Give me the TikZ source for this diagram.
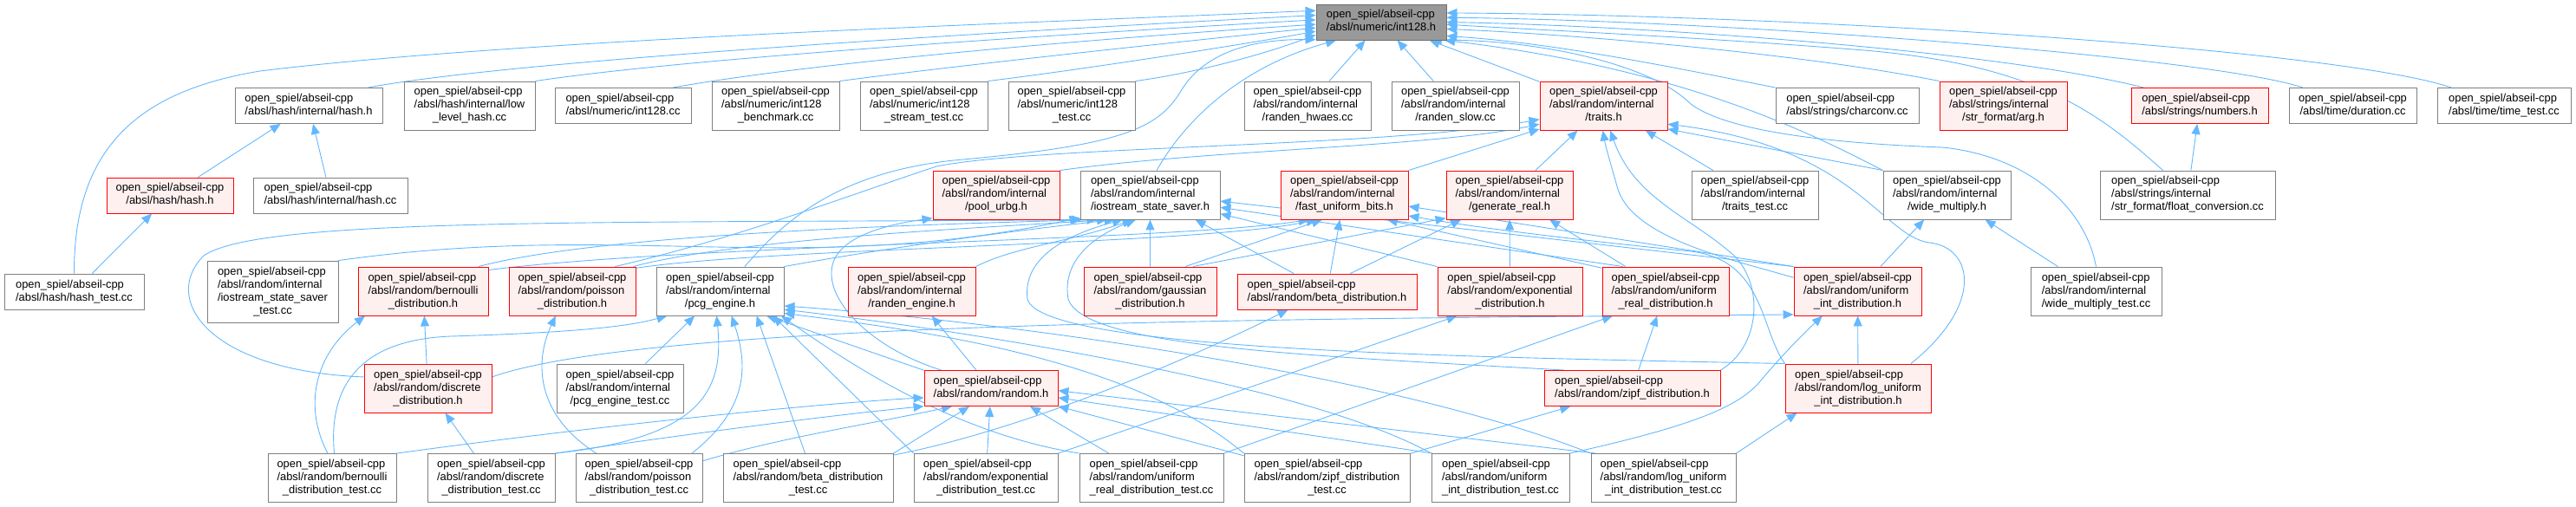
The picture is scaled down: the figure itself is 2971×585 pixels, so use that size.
\documentclass[tikz,border=0pt]{standalone}
\usepackage{fontspec}
\setmainfont{Liberation Sans}
\usetikzlibrary{arrows.meta,backgrounds}
\definecolor{eblue}{RGB}{99,184,255}
\definecolor{bgray}{RGB}{128,128,128}
\definecolor{pinkf}{RGB}{255,240,240}
\definecolor{rootf}{RGB}{153,153,153}
\definecolor{rootd}{RGB}{110,110,110}
\newcommand{\nodefont}{\fontsize{12.9pt}{15pt}\selectfont}
\newcommand{\ltwo}[1]{\begin{tabular}{@{}l@{}}open\_spiel/abseil-cpp\\\multicolumn{1}{@{}c@{}}{#1}\end{tabular}}
\newcommand{\lthree}[2]{\begin{tabular}{@{}l@{}}open\_spiel/abseil-cpp\\#1\\\multicolumn{1}{@{}c@{}}{#2}\end{tabular}}
\newcommand{\lfour}[3]{\begin{tabular}{@{}l@{}}open\_spiel/abseil-cpp\\#1\\#2\\\multicolumn{1}{@{}c@{}}{#3}\end{tabular}}
\tikzset{
  nb/.style={draw=bgray, fill=white, line width=0.9pt, inner sep=0pt, font=\nodefont},
  nr/.style={nb, draw=red, fill=pinkf},
  n0/.style={nb, draw=rootd, fill=rootf},
  h2/.style={minimum height=41pt},
  h3/.style={minimum height=56pt},
  h4/.style={minimum height=71pt},
  e/.style={draw=eblue, line width=0.9pt, -{Triangle[length=12pt,width=10pt]}}
}
\begin{document}
\begin{tikzpicture}[x=1pt,y=-1pt]
\useasboundingbox (0,0) rectangle (2971,585);
% row 0
\node[n0,h2,minimum width=150pt] (I) at (1593,25.5) {\ltwo{/absl/numeric/int128.h}};
% row 1
\node[nb,h2,minimum width=170pt] (hashi) at (356,122) {\ltwo{/absl/hash/internal/hash.h}};
\node[nb,h3,minimum width=151pt] (lowlvl) at (541.5,122) {\lthree{/absl/hash/internal/low}{\_level\_hash.cc}};
\node[nb,h2,minimum width=157pt] (i128cc) at (718.5,122) {\ltwo{/absl/numeric/int128.cc}};
\node[nb,h3,minimum width=147pt] (bench) at (894.5,122) {\lthree{/absl/numeric/int128}{\_benchmark.cc}};
\node[nb,h3,minimum width=147pt] (stream) at (1065.5,122) {\lthree{/absl/numeric/int128}{\_stream\_test.cc}};
\node[nb,h3,minimum width=146pt] (i128t) at (1236,122) {\lthree{/absl/numeric/int128}{\_test.cc}};
\node[nb,h3,minimum width=146pt] (hwaes) at (1508,122) {\lthree{/absl/random/internal}{/randen\_hwaes.cc}};
\node[nb,h3,minimum width=147pt] (slow) at (1678.5,122) {\lthree{/absl/random/internal}{/randen\_slow.cc}};
\node[nr,h3,minimum width=147pt] (T) at (1849.5,122) {\lthree{/absl/random/internal}{/traits.h}};
\node[nb,h2,minimum width=165pt] (charconv) at (2130.5,122) {\ltwo{/absl/strings/charconv.cc}};
\node[nr,h3,minimum width=147pt] (arg) at (2310.5,122) {\lthree{/absl/strings/internal}{/str\_format/arg.h}};
\node[nr,h2,minimum width=158pt] (numbers) at (2537,122) {\ltwo{/absl/strings/numbers.h}};
\node[nb,h2,minimum width=147pt] (duration) at (2713.5,122) {\ltwo{/absl/time/duration.cc}};
\node[nb,h2,minimum width=154pt] (timet) at (2888,122) {\ltwo{/absl/time/time\_test.cc}};
% row 2
\node[nr,h2,minimum width=146pt] (hashh) at (196,225.5) {\ltwo{/absl/hash/hash.h}};
\node[nb,h2,minimum width=178pt] (hashcc) at (381,225.5) {\ltwo{/absl/hash/internal/hash.cc}};
\node[nr,h3,minimum width=146pt] (pool) at (1149,225) {\lthree{/absl/random/internal}{/pool\_urbg.h}};
\node[nb,h3,minimum width=161pt] (iss) at (1326.5,225) {\lthree{/absl/random/internal}{/iostream\_state\_saver.h}};
\node[nr,h3,minimum width=147pt] (F) at (1550.5,225) {\lthree{/absl/random/internal}{/fast\_uniform\_bits.h}};
\node[nr,h3,minimum width=146pt] (G) at (1741,225) {\lthree{/absl/random/internal}{/generate\_real.h}};
\node[nb,h3,minimum width=146pt] (traitst) at (2024,225) {\lthree{/absl/random/internal}{/traits\_test.cc}};
\node[nb,h3,minimum width=147pt] (widemul) at (2245.5,225) {\lthree{/absl/random/internal}{/wide\_multiply.h}};
\node[nb,h3,minimum width=202pt] (floatconv) at (2523,225) {\lthree{/absl/strings/internal}{/str\_format/float\_conversion.cc}};
% row 3
\node[nb,h2,minimum width=161pt] (hasht) at (85.5,336.5) {\ltwo{/absl/hash/hash\_test.cc}};
\node[nb,h4,minimum width=151pt] (isst) at (314.5,336.5) {\lfour{/absl/random/internal}{/iostream\_state\_saver}{\_test.cc}};
\node[nr,h3,minimum width=150pt] (bern) at (488,336) {\lthree{/absl/random/bernoulli}{\_distribution.h}};
\node[nr,h3,minimum width=146pt] (pois) at (660,336) {\lthree{/absl/random/poisson}{\_distribution.h}};
\node[nb,h3,minimum width=147pt] (pcg) at (830.5,336) {\lthree{/absl/random/internal}{/pcg\_engine.h}};
\node[nr,h3,minimum width=147pt] (randeng) at (1051.5,336) {\lthree{/absl/random/internal}{/randen\_engine.h}};
\node[nr,h3,minimum width=153pt] (gauss) at (1326.5,336) {\lthree{/absl/random/gaussian}{\_distribution.h}};
\node[nr,h2,minimum width=207pt] (beta) at (1530.5,336.5) {\ltwo{/absl/random/beta\_distribution.h}};
\node[nr,h3,minimum width=167pt] (expo) at (1741.5,336) {\lthree{/absl/random/exponential}{\_distribution.h}};
\node[nr,h3,minimum width=146pt] (unireal) at (1921,336) {\lthree{/absl/random/uniform}{\_real\_distribution.h}};
\node[nr,h3,minimum width=147pt] (uniint) at (2142.5,336) {\lthree{/absl/random/uniform}{\_int\_distribution.h}};
\node[nb,h3,minimum width=151pt] (wmt) at (2417.5,336) {\lthree{/absl/random/internal}{/wide\_multiply\_test.cc}};
% row 4
\node[nr,h3,minimum width=147pt] (disc) at (493.5,448) {\lthree{/absl/random/discrete}{\_distribution.h}};
\node[nb,h3,minimum width=146pt] (pcgt) at (715,448) {\lthree{/absl/random/internal}{/pcg\_engine\_test.cc}};
\node[nr,h2,minimum width=154pt] (R) at (1143,448) {\ltwo{/absl/random/random.h}};
\node[nr,h2,minimum width=203pt] (zipf) at (1882.5,448) {\ltwo{/absl/random/zipf\_distribution.h}};
\node[nr,h3,minimum width=168pt] (loguni) at (2143,448) {\lthree{/absl/random/log\_uniform}{\_int\_distribution.h}};
% row 5
\node[nb,h3,minimum width=148pt] (bernt) at (383,551.5) {\lthree{/absl/random/bernoulli}{\_distribution\_test.cc}};
\node[nb,h3,minimum width=147pt] (disct) at (566.5,551.5) {\lthree{/absl/random/discrete}{\_distribution\_test.cc}};
\node[nb,h3,minimum width=146pt] (poist) at (737,551.5) {\lthree{/absl/random/poisson}{\_distribution\_test.cc}};
\node[nb,h3,minimum width=196pt] (betat) at (932,551.5) {\lthree{/absl/random/beta\_distribution}{\_test.cc}};
\node[nb,h3,minimum width=166pt] (expot) at (1137,551.5) {\lthree{/absl/random/exponential}{\_distribution\_test.cc}};
\node[nb,h3,minimum width=166pt] (unirealt) at (1328,551.5) {\lthree{/absl/random/uniform}{\_real\_distribution\_test.cc}};
\node[nb,h3,minimum width=191pt] (zipft) at (1530.5,551.5) {\lthree{/absl/random/zipf\_distribution}{\_test.cc}};
\node[nb,h3,minimum width=159pt] (uniintt) at (1730.5,551.5) {\lthree{/absl/random/uniform}{\_int\_distribution\_test.cc}};
\node[nb,h3,minimum width=167pt] (logut) at (1918.5,551.5) {\lthree{/absl/random/log\_uniform}{\_int\_distribution\_test.cc}};

\begin{pgfonlayer}{background}
% ---- to int128.h
\draw[e] (hasht.north) .. controls (85,170) and (160,105) .. (300,82) .. controls (600,45) and (1200,26) .. (I.170);
\draw[e] (hashi.17) .. controls (600,68) and (1200,34) .. (I.174);
\draw[e] (lowlvl.north east) .. controls (800,66) and (1250,38) .. (I.178);
\draw[e] (i128cc.20) .. controls (950,70) and (1300,42) .. (I.182);
\draw[e] (bench.north east) .. controls (1100,76) and (1380,46) .. (I.185);
\draw[e] (stream.north east) .. controls (1250,80) and (1430,52) .. (I.188);
\draw[e] (i128t.north east) .. controls (1380,84) and (1460,62) .. (I.191);
\draw[e] (pcg.45) .. controls (900,260) and (960,200) .. (1100,185) .. controls (1290,168) and (1335,150) .. (1362,105) .. controls (1390,58) and (1450,45) .. (I.195);
\draw[e] (iss.75) .. controls (1360,150) and (1420,80) .. (I.202);
\draw[e] (hwaes) -- (I);
\draw[e] (slow) -- (I);
\draw[e] (T) -- (I);
\draw[e] (charconv.north west) .. controls (1950,82) and (1800,50) .. (I.-12);
\draw[e] (arg.north west) .. controls (2080,62) and (1820,40) .. (I.-6);
\draw[e] (numbers.162) .. controls (2300,58) and (1900,30) .. (I.0);
\draw[e] (duration.160) .. controls (2550,66) and (2000,24) .. (I.4);
\draw[e] (timet.161) .. controls (2700,58) and (2100,18) .. (I.8);
\draw[e] (floatconv.135) .. controls (2420,130) and (2350,75) .. (2150,58) .. controls (1950,42) and (1760,34) .. (I.-2);
\draw[e] (widemul.north west) .. controls (2100,160) and (1950,80) .. (I.-16);
\draw[e] (wmt.north) .. controls (2405,240) and (2340,180) .. (2240,170) .. controls (2100,165) and (1990,150) .. (1950,120) .. controls (1900,70) and (1760,45) .. (I.-20);
% ---- to traits.h
\draw[e] (F.north east) -- (T.200);
\draw[e] (pool.north east) .. controls (1400,172) and (1650,170) .. (T.196);
\draw[e] (pois.30) .. controls (850,275) and (980,225) .. (1080,192) .. controls (1200,168) and (1600,170) .. (T.192);
\draw[e] (G) -- (T);
\draw[e] (traitst) -- (T);
\draw[e] (widemul.north west) -- (T.-20);
\draw[e] (loguni.25) .. controls (2290,350) and (2275,285) .. (2225,280) .. controls (2170,272) and (2140,170) .. (T.-16);
\draw[e] (uniint.168) .. controls (2000,300) and (1880,275) .. (1865,215) .. controls (1858,190) and (1852,170) .. (T.-92);
\draw[e] (zipf.north east) .. controls (2030,400) and (2035,330) .. (2000,295) .. controls (1950,250) and (1885,230) .. (T.-75);
% ---- hash, strings, wide multiply
\draw[e] (hashh) -- (hashi);
\draw[e] (hashcc) -- (hashi);
\draw[e] (hasht) -- (hashh);
\draw[e] (floatconv) -- (numbers);
\draw[e] (uniint) -- (widemul);
\draw[e] (wmt) -- (widemul);
% ---- to iostream_state_saver.h
\draw[e] (isst.north east) to[out=8,in=192] (iss.198);
\draw[e] (disc.170) .. controls (240,428) and (185,345) .. (235,295) .. controls (300,250) and (700,258) .. (iss.200);
\draw[e] (bern.24) .. controls (700,268) and (1100,258) .. (iss.205);
\draw[e] (pois.22) .. controls (850,275) and (1150,262) .. (iss.210);
\draw[e] (pcg.north east) .. controls (1000,290) and (1150,268) .. (iss.215);
\draw[e] (randeng.north east) .. controls (1170,285) and (1230,280) .. (iss.235);
\draw[e] (loguni.north west) .. controls (1700,412) and (1200,405) .. (1185,345) .. controls (1180,305) and (1215,275) .. (iss.222);
\draw[e] (zipf.165) .. controls (1500,410) and (1250,400) .. (1232,345) .. controls (1225,305) and (1255,275) .. (iss.240);
\draw[e] (gauss) -- (iss);
\draw[e] (beta) -- (iss);
\draw[e] (expo.north west) -- (iss.-15);
\draw[e] (unireal.150) -- (iss.-10);
\draw[e] (uniint.north west) -- (iss.-5);
% ---- to fast_uniform_bits.h
\draw[e] (bern.18) .. controls (800,282) and (1350,278) .. (F.215);
\draw[e] (pois.20) .. controls (900,285) and (1380,283) .. (F.222);
\draw[e] (gauss.35) -- (F.228);
\draw[e] (beta) -- (F);
\draw[e] (unireal.160) -- (F.-30);
\draw[e] (uniint.north west) -- (F.-10);
\draw[e] (loguni.north west) .. controls (2030,380) and (2035,300) .. (1950,290) .. controls (1800,275) and (1700,262) .. (F.-18);
% ---- to generate_real.h
\draw[e] (gauss.30) -- (G.200);
\draw[e] (beta.38) -- (G.207);
\draw[e] (expo) -- (G);
\draw[e] (unireal) -- (G);
% ---- distributions
\draw[e] (disc) -- (bern);
\draw[e] (bernt.100) .. controls (350,470) and (362,410) .. (bern.203);
\draw[e] (disct) -- (disc);
\draw[e] (poist.150) .. controls (620,480) and (615,420) .. (pois.236);
\draw[e] (disc.10) .. controls (750,370) and (1500,368) .. (uniint.200);
\draw[e] (zipf) -- (unireal);
\draw[e] (unirealt.north east) -- (unireal.205);
\draw[e] (expot.north east) -- (expo.205);
\draw[e] (betat.15) .. controls (1200,492) and (1400,400) .. (beta.205);
\draw[e] (zipft) -- (zipf);
\draw[e] (uniintt.north east) .. controls (1950,492) and (2005,470) .. (2030,440) .. controls (2055,410) and (2080,385) .. (uniint.215);
\draw[e] (loguni) -- (uniint);
\draw[e] (logut.north east) -- (loguni.202);
% ---- to pcg_engine.h
\draw[e] (pcgt) -- (pcg);
\draw[e] (bernt.85) .. controls (378,440) and (420,392) .. (520,388) .. controls (650,384) and (720,378) .. (pcg.205);
\draw[e] (disct.north east) .. controls (810,505) and (835,450) .. (pcg.262);
\draw[e] (poist.25) .. controls (865,470) and (862,420) .. (pcg.-65);
\draw[e] (betat.97) -- (pcg.-34);
\draw[e] (expot.north west) -- (pcg.-25);
\draw[e] (unirealt.north west) .. controls (1100,500) and (980,420) .. (pcg.-22);
\draw[e] (zipft.north west) .. controls (1300,410) and (1050,380) .. (pcg.-19);
\draw[e] (uniintt.north west) .. controls (1500,440) and (1100,380) .. (pcg.-16);
\draw[e] (logut.north west) .. controls (1600,430) and (1150,370) .. (pcg.-13);
\draw[e] (R.165) -- (pcg.-28);
% ---- random.h
\draw[e] (R.160) .. controls (1000,400) and (945,340) .. (962,300) .. controls (975,270) and (1030,258) .. (pool.200);
\draw[e] (R) -- (randeng);
\draw[e] (bernt.north east) .. controls (700,490) and (950,465) .. (R.188);
\draw[e] (disct.north east) .. controls (800,500) and (950,480) .. (R.195);
\draw[e] (poist.15) .. controls (900,505) and (1000,490) .. (R.205);
\draw[e] (betat.north east) -- (R.220);
\draw[e] (expot) -- (R);
\draw[e] (unirealt.150) -- (R.-25);
\draw[e] (zipft.165) -- (R.-15);
\draw[e] (uniintt.160) -- (R.-8);
\draw[e] (logut.160) -- (R.-2);
\end{pgfonlayer}
\end{tikzpicture}
\end{document}
